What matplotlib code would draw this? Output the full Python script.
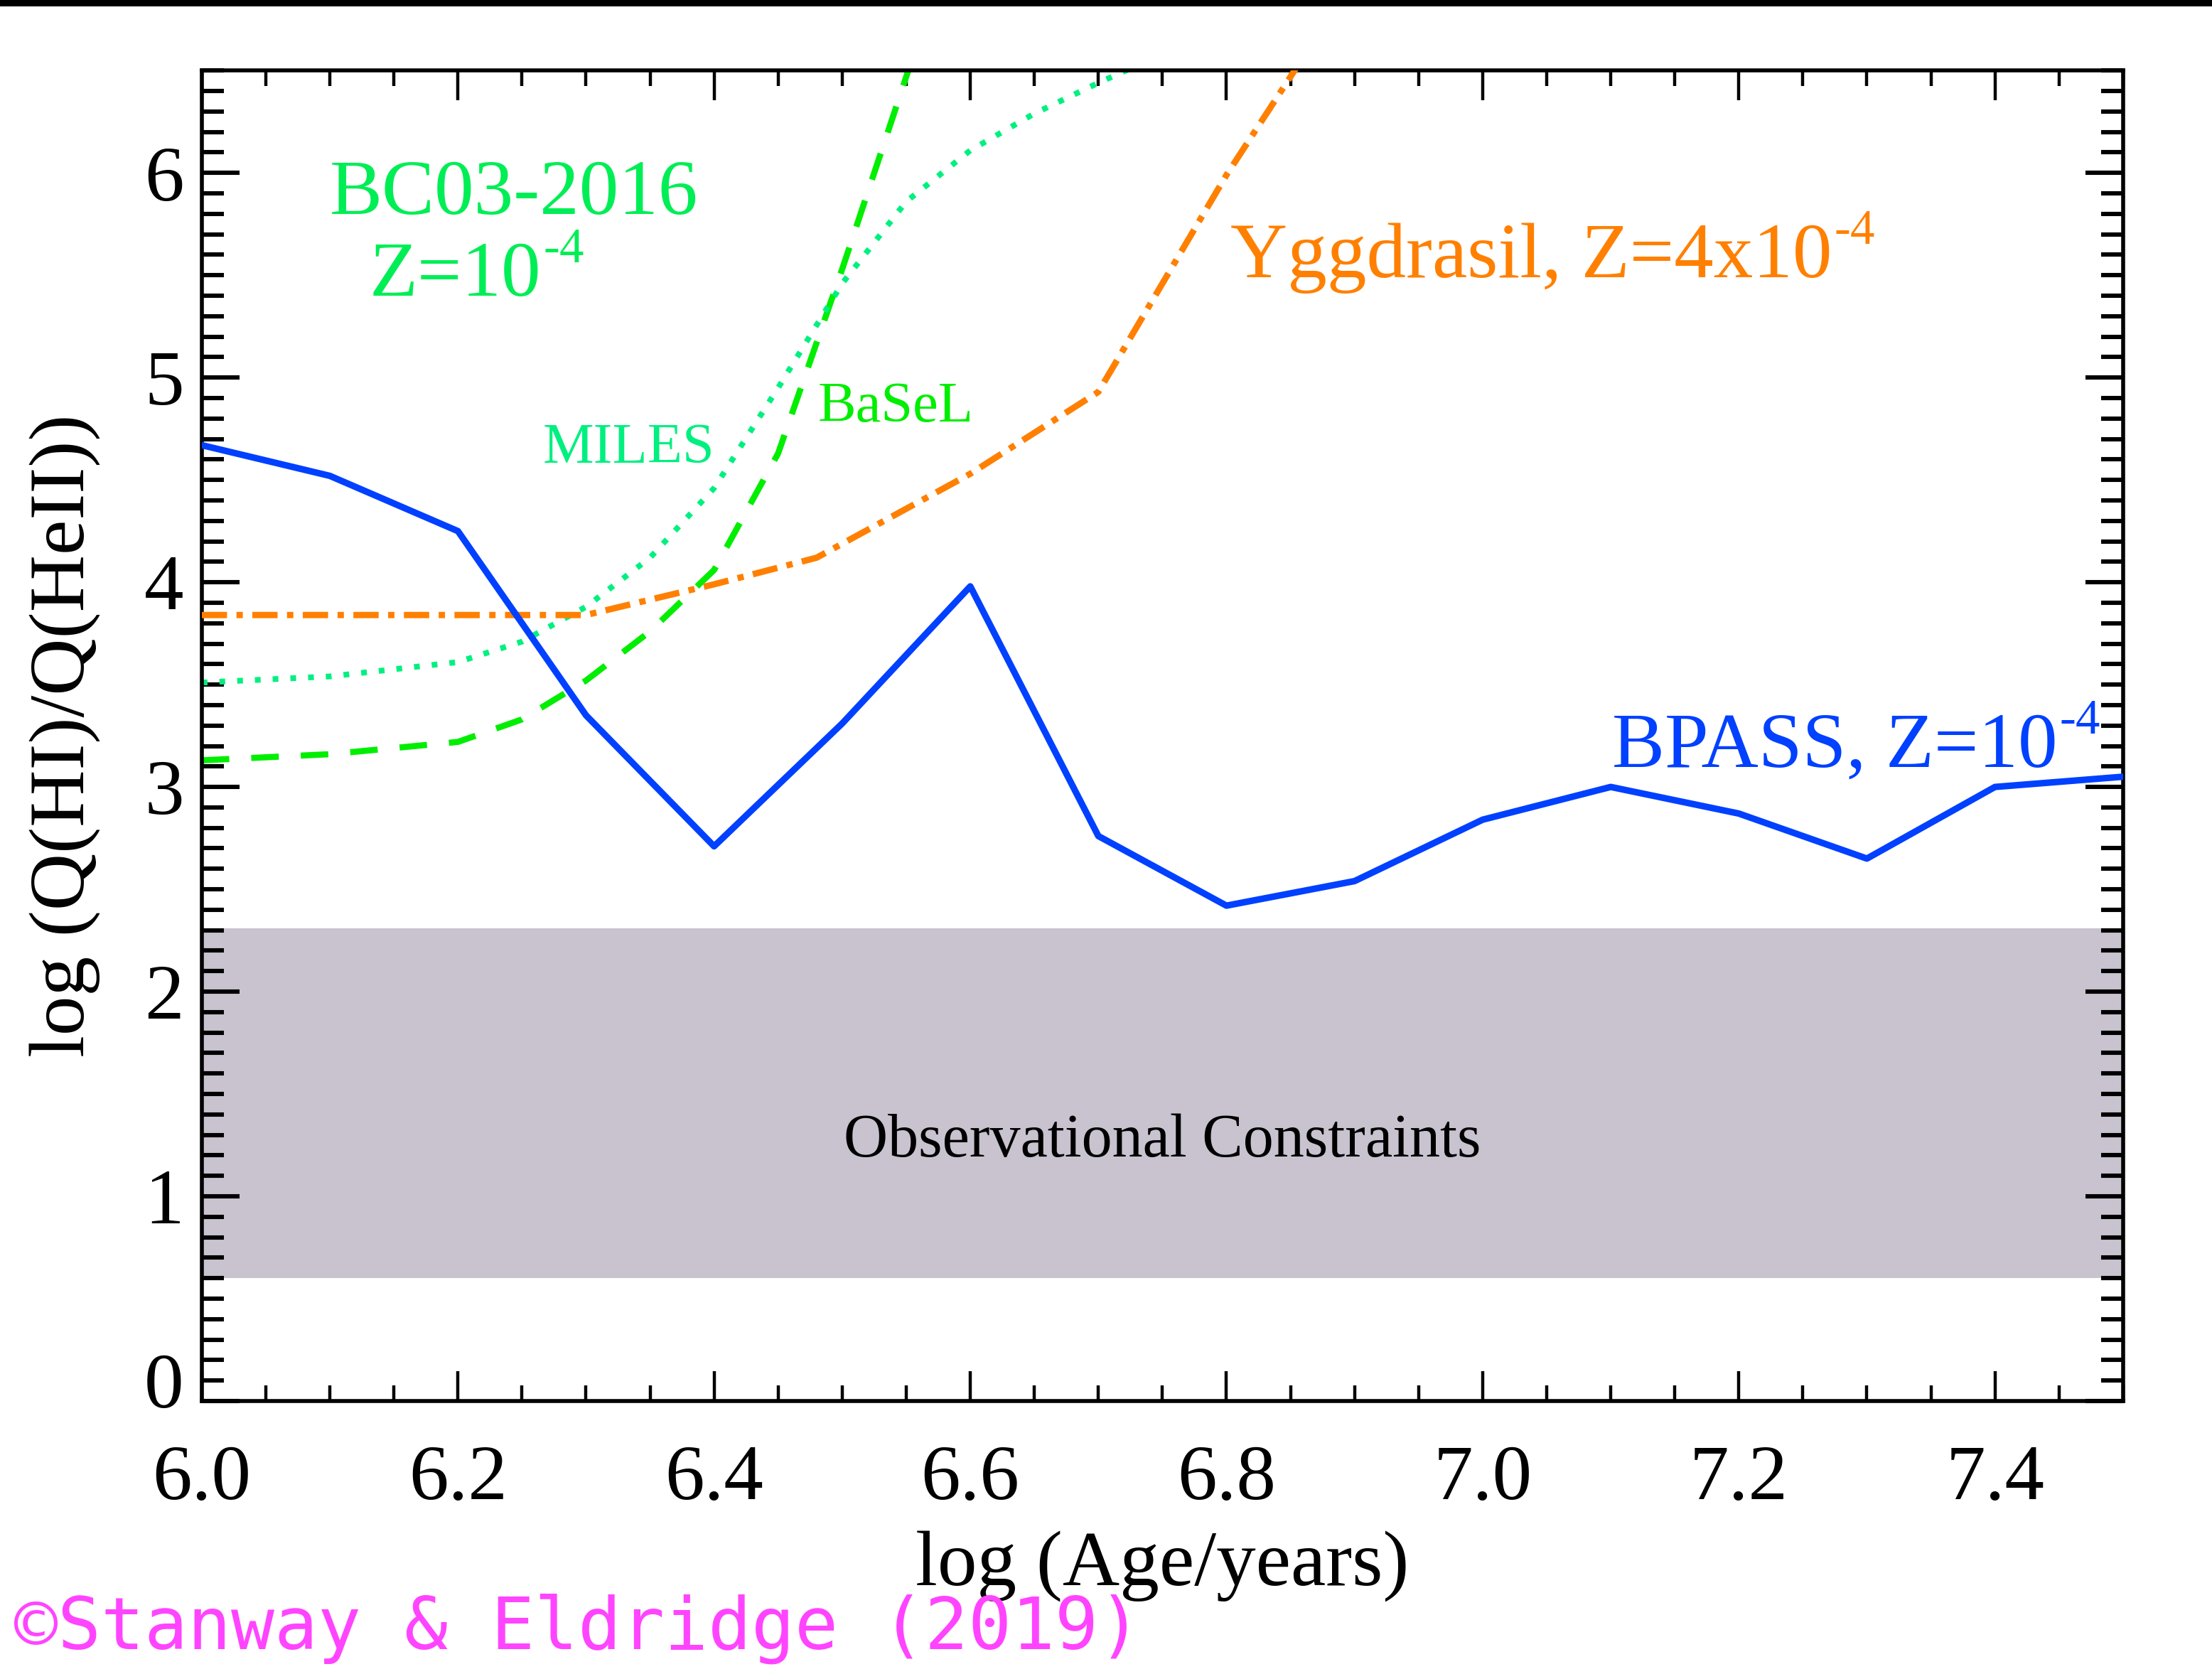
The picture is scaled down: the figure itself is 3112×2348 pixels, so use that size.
import matplotlib.pyplot as plt
from matplotlib.ticker import MultipleLocator
from matplotlib.patches import Rectangle

plt.rcParams['font.family'] = ['Liberation Serif', 'DejaVu Serif']
plt.rcParams['mathtext.fontset'] = 'custom'
plt.rcParams['mathtext.rm'] = 'Liberation Serif'
plt.rcParams['mathtext.it'] = 'Liberation Serif:italic'

# ---- model tracks: log(Q(HI)/Q(HeII)) vs log(age) ----
age_bpass = [6.0, 6.1, 6.2, 6.3, 6.4, 6.5, 6.6, 6.7, 6.8, 6.9, 7.0, 7.1, 7.2, 7.3, 7.4, 7.5]
q_bpass = [4.67, 4.52, 4.25, 3.35, 2.71, 3.31, 3.98, 2.76, 2.42, 2.54, 2.84, 3.00, 2.87, 2.65, 3.00, 3.05]

age_ygg = [6.0, 6.1, 6.2, 6.3, 6.4, 6.48, 6.6, 6.7, 6.75, 6.8, 6.85, 6.9]
q_ygg = [3.84, 3.84, 3.84, 3.84, 3.99, 4.12, 4.53, 4.93, 5.46, 5.99, 6.47, 6.95]

age_basel = [6.0, 6.1, 6.2, 6.25, 6.3, 6.35, 6.4, 6.45, 6.5, 6.55, 6.6]
q_basel = [3.13, 3.16, 3.22, 3.33, 3.52, 3.76, 4.06, 4.63, 5.53, 6.47, 7.4]

age_miles = [6.0, 6.1, 6.2, 6.25, 6.3, 6.35, 6.4, 6.45, 6.5, 6.55, 6.6, 6.65, 6.7, 6.75]
q_miles = [3.51, 3.54, 3.61, 3.71, 3.88, 4.12, 4.46, 4.95, 5.46, 5.86, 6.11, 6.29, 6.44, 6.58]

# observed range
obs_low, obs_high = 0.60, 2.31

xtick_vals = [6.0, 6.2, 6.4, 6.6, 6.8, 7.0, 7.2, 7.4]
ytick_vals = [0, 1, 2, 3, 4, 5, 6]

c_bpass = '#0040ff'
c_ygg = '#ff8000'
c_basel = '#00ee00'
c_miles = '#00f080'
c_bc03 = '#00ee55'

fig = plt.figure(figsize=(15.56, 11.74), dpi=200)
ax = fig.add_axes([0.0912, 0.1606, 0.8686, 0.7971])

ax.axhspan(obs_low, obs_high, color='#c8c3cf', lw=0, zorder=0)

ax.plot(age_basel, q_basel, color=c_basel, lw=3.1, dashes=(4.5, 3.6), zorder=2)
ax.plot(age_miles, q_miles, color=c_miles, lw=2.9, dashes=(1, 2.1), zorder=2)
ax.plot(age_ygg, q_ygg, color=c_ygg, lw=3.2, dashes=(4, 1.5, 1, 1.5), zorder=3)
ax.plot(age_bpass, q_bpass, color=c_bpass, lw=3.3, zorder=4)

ax.set_xlim(6.0, 7.5)
ax.set_ylim(0, 6.5)

ax.set_xticks(xtick_vals)
ax.set_xticklabels([f'{v:.1f}' for v in xtick_vals])
ax.xaxis.set_minor_locator(MultipleLocator(0.05))
ax.set_yticks(ytick_vals)
ax.set_yticklabels([''] + [str(v) for v in ytick_vals[1:]])
ax.yaxis.set_minor_locator(MultipleLocator(0.1))

ax.tick_params(which='both', direction='in', top=True, right=True)
ax.tick_params(axis='x', which='major', length=15, width=1.6, pad=22, labelsize=40)
ax.tick_params(axis='x', which='minor', length=8, width=1.6)
ax.tick_params(axis='y', which='major', length=19, width=2.2, pad=9, labelsize=40)
ax.tick_params(axis='y', which='minor', length=11, width=2.2)
for sp in ax.spines.values():
    sp.set_linewidth(2.0)

# IDL-style raised zero label
ax.annotate('0', xy=(0, 0.1), xycoords=('axes fraction', 'data'),
            xytext=(-9, 0), textcoords='offset points',
            ha='right', va='center_baseline', fontsize=40)

ax.set_xlabel('log (Age/years)', fontsize=40, labelpad=8)
ax.set_ylabel('log (Q(HI)/Q(HeII))', fontsize=40, labelpad=22)


def sup_label(x, y, base, sup, color, size):
    # main text plus a small raised exponent right after it
    t = ax.text(x, y, base, color=color, fontsize=size)
    fig.canvas.draw()
    w_pt = t.get_window_extent().width * 72.0 / fig.dpi
    ax.annotate(r'$\text{%s}$' % sup, xy=(x, y), xytext=(w_pt + 1, size * 0.42),
                textcoords='offset points', color=color, fontsize=size * 0.62)


# curve labels
ax.text(6.100, 5.80, 'BC03-2016', color=c_bc03, fontsize=40)
sup_label(6.131, 5.40, 'Z=10', '-4', c_bc03, 40)
ax.text(6.2665, 4.585, 'MILES', color=c_miles, fontsize=29)
ax.text(6.481, 4.786, 'BaSeL', color=c_basel, fontsize=29)
sup_label(6.803, 5.49, 'Yggdrasil, Z=4x10', '-4', c_ygg, 40)
sup_label(7.101, 3.10, 'BPASS, Z=10', '-4', c_bpass, 40)
ax.text(6.75, 1.195, 'Observational Constraints', color='black', fontsize=31, ha='center')

fig.text(0.0064, 0.012, '\u00a9Stanway & Eldridge (2019)', color='#ff44ff',
         fontsize=36.5, family='DejaVu Sans Mono', ha='left', va='baseline')

fig.add_artist(Rectangle((0, 0.9962), 1, 0.0038, transform=fig.transFigure,
                         color='black', lw=0))

fig.savefig('out.png', dpi=200, facecolor='white')
